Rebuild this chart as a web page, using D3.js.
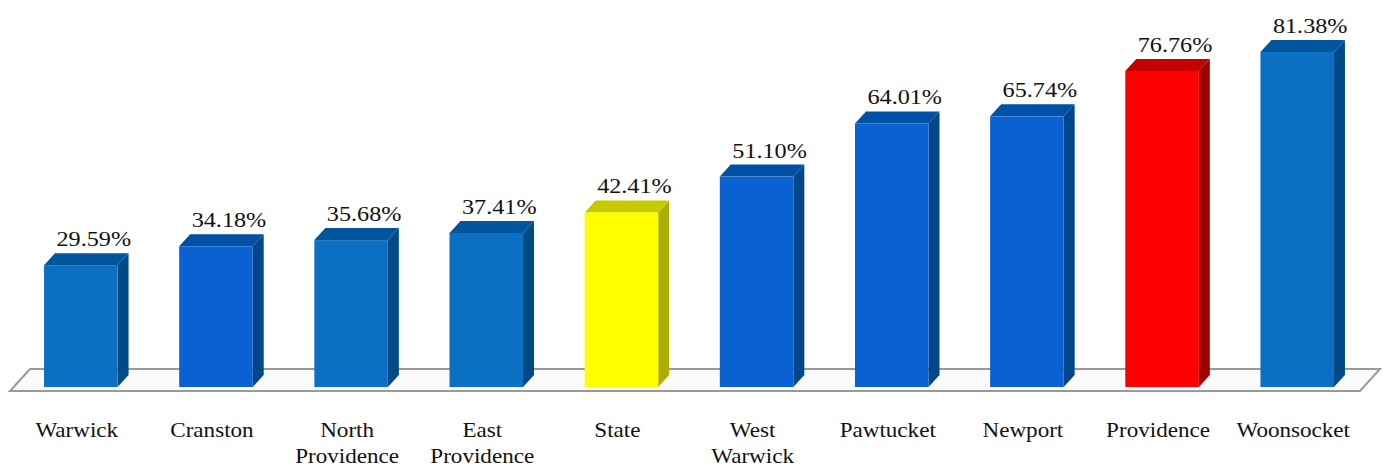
<!DOCTYPE html>
<html>
<head>
<meta charset="utf-8">
<script src="https://cdn.jsdelivr.net/npm/d3@7"></script>
<style>
  html, body { margin: 0; padding: 0; background: #ffffff; }
  svg { display: block; }
  .lbl { font-family: "Liberation Serif", "Tinos", "Times New Roman", serif; fill: #111111; }
</style>
</head>
<body>
<svg id="chart" width="1385" height="468"></svg>
<script>
// Share of students by district
const categories = ["Warwick", "Cranston", "North Providence", "East Providence", "State",
                    "West Warwick", "Pawtucket", "Newport", "Providence", "Woonsocket"];
const categoryLines = [["Warwick"], ["Cranston"], ["North", "Providence"], ["East", "Providence"], ["State"],
                       ["West", "Warwick"], ["Pawtucket"], ["Newport"], ["Providence"], ["Woonsocket"]];
const values = [29.59, 34.18, 35.68, 37.41, 42.41, 51.10, 64.01, 65.74, 76.76, 81.38];
const valueLabels = ["29.59%", "34.18%", "35.68%", "37.41%", "42.41%", "51.10%", "64.01%", "65.74%", "76.76%", "81.38%"];

// face colours: front, top, side
const palette = {
  blueA: ["#0b6fc3", "#00559c", "#004a85"],
  blueB: ["#0a62d2", "#0050a6", "#00468a"],
  yellow: ["#ffff00", "#c9c900", "#adad00"],
  red: ["#ff0000", "#c40000", "#9e0000"]
};
const barStyle = ["blueA", "blueB", "blueA", "blueA", "yellow", "blueB", "blueB", "blueB", "red", "blueA"];

const svg = d3.select("#chart");
const depthX = 11, depthY = -12;
const baseY = 387;

const x = d3.scaleBand()
  .domain(categories)
  .range([12, 1366])
  .paddingInner(0.456)
  .paddingOuter(0.237);

const y = d3.scaleLinear().domain([0, 100]).range([baseY, baseY - 411.7]);

const bw = x.bandwidth();

// floor plane
const floorFront = 391, floorDX = 20, floorDY = -22;
const fx0 = 10, fx1 = 1360;
svg.append("path")
  .attr("d", `M${fx0},${floorFront} L${fx0 + floorDX},${floorFront + floorDY} L${fx1 + floorDX},${floorFront + floorDY} L${fx1},${floorFront} Z`)
  .attr("fill", "#fbfbfb")
  .attr("stroke", "#9a9a9a")
  .attr("stroke-width", 2)
  .attr("stroke-linejoin", "miter");

const data = categories.map((c, i) => ({ c, v: values[i], label: valueLabels[i], lines: categoryLines[i], style: palette[barStyle[i]] }));

const bars = svg.append("g").selectAll("g").data(data).join("g");

// side face
bars.append("path")
  .attr("d", d => {
    const x0 = x(d.c) + bw, yt = y(d.v);
    return `M${x0},${yt} L${x0 + depthX},${yt + depthY} L${x0 + depthX},${baseY + depthY} L${x0},${baseY} Z`;
  })
  .attr("fill", d => d.style[2]);

// top face
bars.append("path")
  .attr("d", d => {
    const x0 = x(d.c), yt = y(d.v);
    return `M${x0},${yt} L${x0 + depthX},${yt + depthY} L${x0 + bw + depthX},${yt + depthY} L${x0 + bw},${yt} Z`;
  })
  .attr("fill", d => d.style[1]);

// front face
bars.append("rect")
  .attr("x", d => x(d.c))
  .attr("y", d => y(d.v))
  .attr("width", bw)
  .attr("height", d => baseY - y(d.v))
  .attr("fill", d => d.style[0]);

// value labels
bars.append("text")
  .attr("class", "lbl")
  .attr("transform", d => `translate(${x(d.c) + bw / 2 + 13},${y(d.v) + depthY - 7}) scale(1.1,1)`)
  .attr("text-anchor", "middle")
  .attr("font-size", 22)
  .text(d => d.label);

// category labels
const cat = svg.append("g").selectAll("g").data(data).join("g")
  .attr("transform", d => `translate(${x(d.c) + bw / 2 - 4},437) scale(1.1,1)`);
cat.append("text")
  .attr("class", "lbl")
  .attr("text-anchor", "middle")
  .attr("font-size", 21)
  .selectAll("tspan")
  .data(d => d.lines)
  .join("tspan")
  .attr("x", 0)
  .attr("dy", (d, i) => i === 0 ? 0 : 26)
  .text(d => d);
</script>
</body>
</html>
